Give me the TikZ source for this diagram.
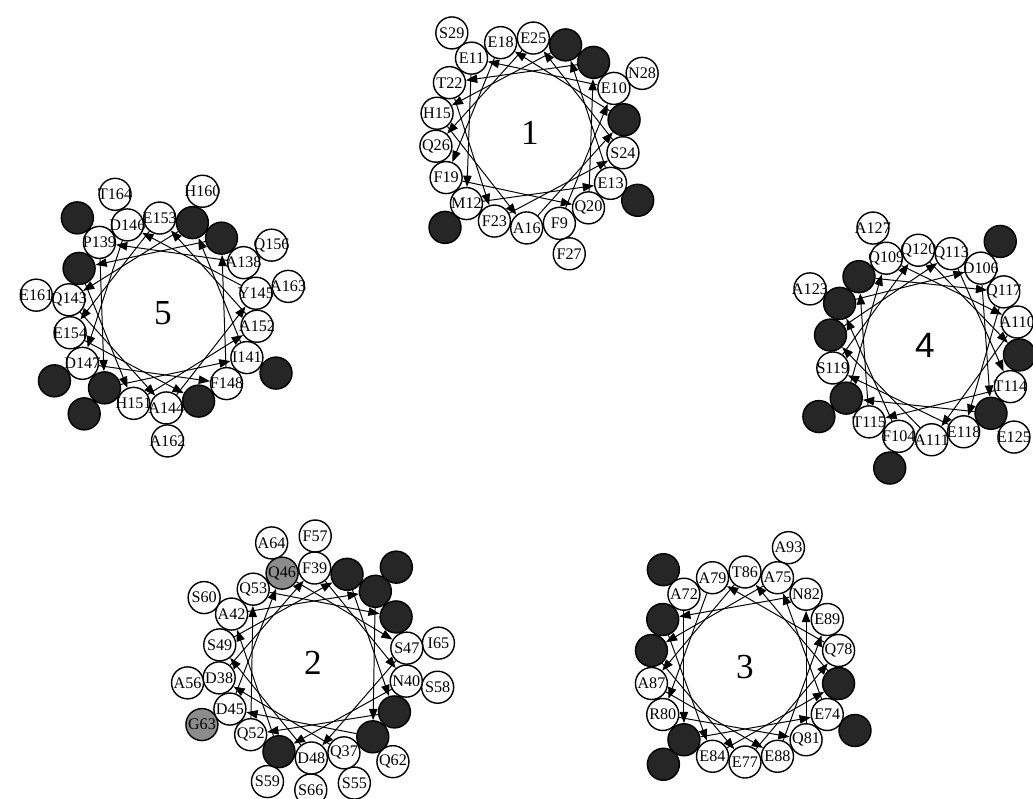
\documentclass[tikz,border=0pt]{standalone}
\usepackage{fontspec}
\setmainfont{Liberation Serif}
\newfontfamily\helv{Liberation Sans}
\usetikzlibrary{arrows.meta, calc}

\begin{document}
\begin{tikzpicture}[x=0.025cm, y=0.025cm,
      res/.style={circle, draw, line width=1pt, fill=white, minimum size=0.8cm, inner sep=0pt, font=\fontsize{11.5}{10}\selectfont},
      dk/.style={res, fill=black!85},
      gr/.style={res, fill=black!45},
      link/.style={-{Triangle[length=8pt, width=6pt]}, line width=0.7pt},
      num/.style={font=\fontsize{25}{25}\selectfont}]
    \useasboundingbox (0,0) rectangle (1033,798);

    % wheel 1
    \coordinate (c1) at (530,665);
    \node[num] (n1) at (c1) {1};
    \foreach \i/\t/\s in {27/F27/res, 28/N28/res, 29/S29/res, 30/{}/dk, 31/{}/dk}
      \node[\s] (r\i) at ($(c1)+({-72+100*(\i-9)}:127)$) {\makebox[0pt]{\t}};
    \foreach \i/\t/\s in {9/F9/res, 10/E10/res, 11/E11/res, 12/M12/res, 13/E13/res, 14/{}/dk,
        15/H15/res, 16/A16/res, 17/{}/dk, 18/E18/res, 19/F19/res, 20/Q20/res, 21/{}/dk,
        22/T22/res, 23/F23/res, 24/S24/res, 25/E25/res, 26/Q26/res}
      \node[\s] (r\i) at ($(c1)+({-72+100*(\i-9)}:95)$) {\makebox[0pt]{\t}};
    \foreach \i [evaluate=\i as \j using int(\i+1)] in {9,...,25}
      \draw[link] (r\i) -- (r\j);

    % wheel 2
    \coordinate (c2) at (313,135);
    \node[num] (n2) at (c2) {2};
    \foreach \i/\t/\s in {55/S55/res, 56/A56/res, 57/F57/res, 58/S58/res, 59/S59/res, 60/S60/res,
        61/{}/dk, 62/Q62/res, 63/G63/gr, 64/A64/res, 65/I65/res, 66/S66/res}
      \node[\s] (r\i) at ($(c2)+({-71-100*(\i-37)}:127)$) {\makebox[0pt]{\t}};
    \foreach \i/\t/\s in {37/Q37/res, 38/D38/res, 39/F39/res, 40/N40/res, 41/{}/dk, 42/A42/res,
        43/{}/dk, 44/{}/dk, 45/D45/res, 46/Q46/gr, 47/S47/res, 48/D48/res, 49/S49/res,
        50/{}/dk, 51/{}/dk, 52/Q52/res, 53/Q53/res, 54/{}/dk}
      \node[\s] (r\i) at ($(c2)+({-71-100*(\i-37)}:95)$) {\makebox[0pt]{\t}};
    \foreach \i [evaluate=\i as \j using int(\i+1)] in {37,...,53}
      \draw[link] (r\i) -- (r\j);

    % wheel 3
    \coordinate (c3) at (745,131);
    \node[num] (n3) at (c3) {3};
    \foreach \i/\t/\s in {90/{}/dk, 91/{}/dk, 92/{}/dk, 93/A93/res}
      \node[\s] (r\i) at ($(c3)+({130+100*(\i-72)}:127)$) {\makebox[0pt]{\t}};
    \foreach \i/\t/\s in {72/A72/res, 73/{}/dk, 74/E74/res, 75/A75/res, 76/{}/dk, 77/E77/res,
        78/Q78/res, 79/A79/res, 80/R80/res, 81/Q81/res, 82/N82/res, 83/{}/dk, 84/E84/res,
        85/{}/dk, 86/T86/res, 87/A87/res, 88/E88/res, 89/E89/res}
      \node[\s] (r\i) at ($(c3)+({130+100*(\i-72)}:95)$) {\makebox[0pt]{\t}};
    \foreach \i [evaluate=\i as \j using int(\i+1)] in {72,...,88}
      \draw[link] (r\i) -- (r\j);

    % wheel 4
    \coordinate (c4) at (925,453);
    \node[num, font=\helv\fontsize{25}{25}\selectfont] (n4) at (c4) {4};
    \foreach \i/\t/\s in {122/{}/dk, 123/A123/res, 124/{}/dk, 125/E125/res, 126/{}/dk, 127/A127/res}
      \node[\s] (r\i) at ($(c4)+({-106-100*(\i-104)}:128)$) {\makebox[0pt]{\t}};
    \foreach \i/\t/\s in {104/F104/res, 105/{}/dk, 106/D106/res, 107/{}/dk, 108/{}/dk,
        109/Q109/res, 110/A110/res, 111/A111/res, 112/{}/dk, 113/Q113/res, 114/T114/res,
        115/T115/res, 116/{}/dk, 117/Q117/res, 118/E118/res, 119/S119/res, 120/Q120/res, 121/{}/dk}
      \node[\s] (r\i) at ($(c4)+({-106-100*(\i-104)}:95)$) {\makebox[0pt]{\t}};
    \foreach \i [evaluate=\i as \j using int(\i+1)] in {104,...,120}
      \draw[link] (r\i) -- (r\j);

    % wheel 5
    \coordinate (c5) at (163,485);
    \node[num] (n5) at (c5) {5};
    \foreach \i/\t/\s in {156/Q156/res, 157/{}/dk, 158/{}/dk, 159/{}/dk, 160/H160/res,
        161/E161/res, 162/A162/res, 163/A163/res, 164/T164/res, 165/{}/dk}
      \node[\s] (r\i) at ($(c5)+({32+100*(\i-138)}:128)$) {\makebox[0pt]{\t}};
    \foreach \i/\t/\s in {138/A138/res, 139/P139/res, 140/{}/dk, 141/I141/res, 142/{}/dk,
        143/Q143/res, 144/A144/res, 145/Y145/res, 146/D146/res, 147/D147/res, 148/F148/res,
        149/{}/dk, 150/{}/dk, 151/H151/res, 152/A152/res, 153/E153/res, 154/E154/res, 155/{}/dk}
      \node[\s] (r\i) at ($(c5)+({32+100*(\i-138)}:95)$) {\makebox[0pt]{\t}};
    \foreach \i [evaluate=\i as \j using int(\i+1)] in {138,...,154}
      \draw[link] (r\i) -- (r\j);
  \end{tikzpicture}
\end{document}
